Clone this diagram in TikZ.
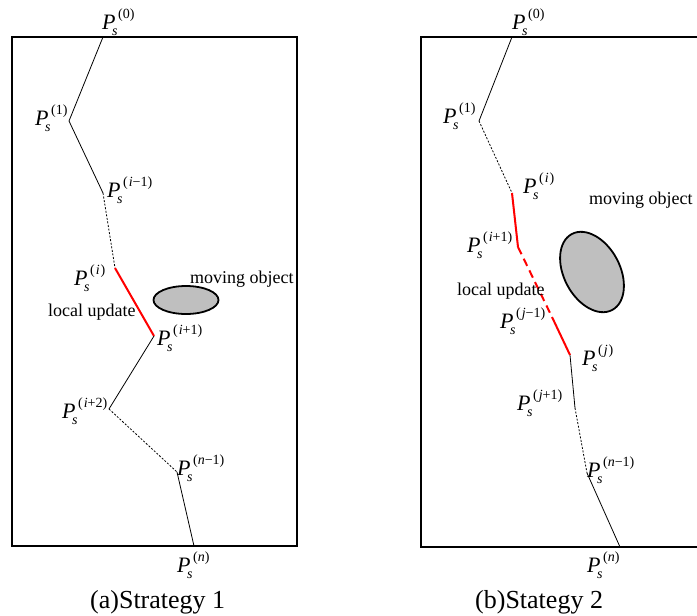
\documentclass[tikz,border=0pt]{standalone}
\usepackage{fontspec}
\setmainfont{Liberation Serif}
\usetikzlibrary{shapes.geometric}
\newcommand{\supfont}{\fontsize{14}{14}\selectfont}
\newcommand{\Ps}[1]{\fontsize{22}{24}\selectfont\textit{P}\rlap{\kern-3.5pt\raisebox{-6pt}{\supfont\textit{s}}}\kern2.5pt\raisebox{11pt}{\supfont(#1)}}
\tikzset{
  frame/.style={line width=2.2pt},
  seg/.style={line width=0.8pt},
  dots/.style={line width=0.8pt, dash pattern=on 2pt off 1.6pt},
  upd/.style={line width=2pt, draw=red},
  upddash/.style={line width=2pt, draw=red, dash pattern=on 8pt off 5pt},
  plabel/.style={anchor=base west, inner sep=0pt},
  txt/.style={anchor=base west, inner sep=0pt, font=\fontsize{18}{20}\selectfont},
  captext/.style={anchor=base west, inner sep=0pt, font=\fontsize{26}{28}\selectfont},
  obj/.style={ellipse, draw, line width=1.8pt, fill=black!25, inner sep=0pt}
}
\begin{document}
\begin{tikzpicture}[x=1pt,y=-1pt]
\useasboundingbox (0,0) rectangle (697,616);
% ---------- (a) ----------
\draw[frame] (12,37) rectangle (297,546);
\coordinate (a0) at (103,37);
\coordinate (a1) at (69,121);
\coordinate (a2) at (103,193);
\coordinate (a3) at (115,268);
\coordinate (a4) at (154,336);
\coordinate (a5) at (109,409);
\coordinate (a6) at (177,472);
\coordinate (a7) at (194,546);
\draw[seg] (a0) -- (a1) -- (a2);
\draw[dots] (a2) -- (a3);
\draw[upd] (a3) -- (a4);
\draw[seg] (a4) -- (a5);
\draw[dots] (a5) -- (a6);
\draw[seg] (a6) -- (a7);
\node[obj, minimum width=65pt, minimum height=28pt] (oa) at (186,300) {};
\node[plabel] (la0) at (102,29) {\Ps{0}};
\node[plabel] (la1) at (35,125) {\Ps{1}};
\node[plabel] (la2) at (107,197) {\Ps{\kern1pt\textit{i}−1}};
\node[plabel] (la3) at (74,285) {\Ps{\kern1pt\textit{i}\kern1pt}};
\node[plabel] (la4) at (157,345) {\Ps{\kern1pt\textit{i}+1}};
\node[plabel] (la5) at (62,418) {\Ps{\kern1pt\textit{i}+2}};
\node[plabel] (la6) at (177,475) {\Ps{\textit{n}−1}};
\node[plabel] (la7) at (177,572) {\Ps{\textit{n}}};
\node[txt] (ma) at (190,283) {moving object};
\node[txt] (ua) at (48,316) {local update};
\node[captext] (ca) at (90,608) {(a)Strategy 1};
% ---------- (b) ----------
\draw[frame] (700,37) -- (421,37) -- (421,547) -- (700,547);
\coordinate (b0) at (512,37);
\coordinate (b1) at (479,121);
\coordinate (b2) at (512,193);
\coordinate (b3) at (518,247);
\coordinate (b4) at (552,317);
\coordinate (b5) at (570,355);
\coordinate (b6) at (575,408);
\coordinate (b7) at (587,473);
\coordinate (b8) at (620,547);
\draw[seg] (b0) -- (b1);
\draw[dots] (b1) -- (b2);
\draw[upd] (b2) -- (b3);
\draw[upddash] (b3) -- (b4);
\draw[upd] (b4) -- (b5);
\draw[seg] (b5) -- (b6);
\draw[dots] (b6) -- (b7);
\draw[seg] (b7) -- (b8);
\node[obj, minimum width=86pt, minimum height=56pt, rotate=-62] (ob) at (592,272) {};
\node[plabel] (lb0) at (512,29) {\Ps{0}};
\node[plabel] (lb1) at (443,123) {\Ps{1}};
\node[plabel] (lb2) at (523,193) {\Ps{\kern1pt\textit{i}\kern1pt}};
\node[plabel] (lb3) at (467,252) {\Ps{\kern1pt\textit{i}+1}};
\node[plabel] (lb4) at (500,328) {\Ps{\kern1pt\textit{j}−1}};
\node[plabel] (lb5) at (582,365) {\Ps{\kern1pt\textit{j}\kern1pt}};
\node[plabel] (lb6) at (517,410) {\Ps{\kern1pt\textit{j}+1}};
\node[plabel] (lb7) at (587,477) {\Ps{\textit{n}−1}};
\node[plabel] (lb8) at (587,572) {\Ps{\textit{n}}};
\node[txt] (mb) at (589,204) {moving object};
\node[txt] (ub) at (457,295) {local update};
\node[captext] (cb) at (475,608) {(b)Stategy 2};
\end{tikzpicture}
\end{document}
